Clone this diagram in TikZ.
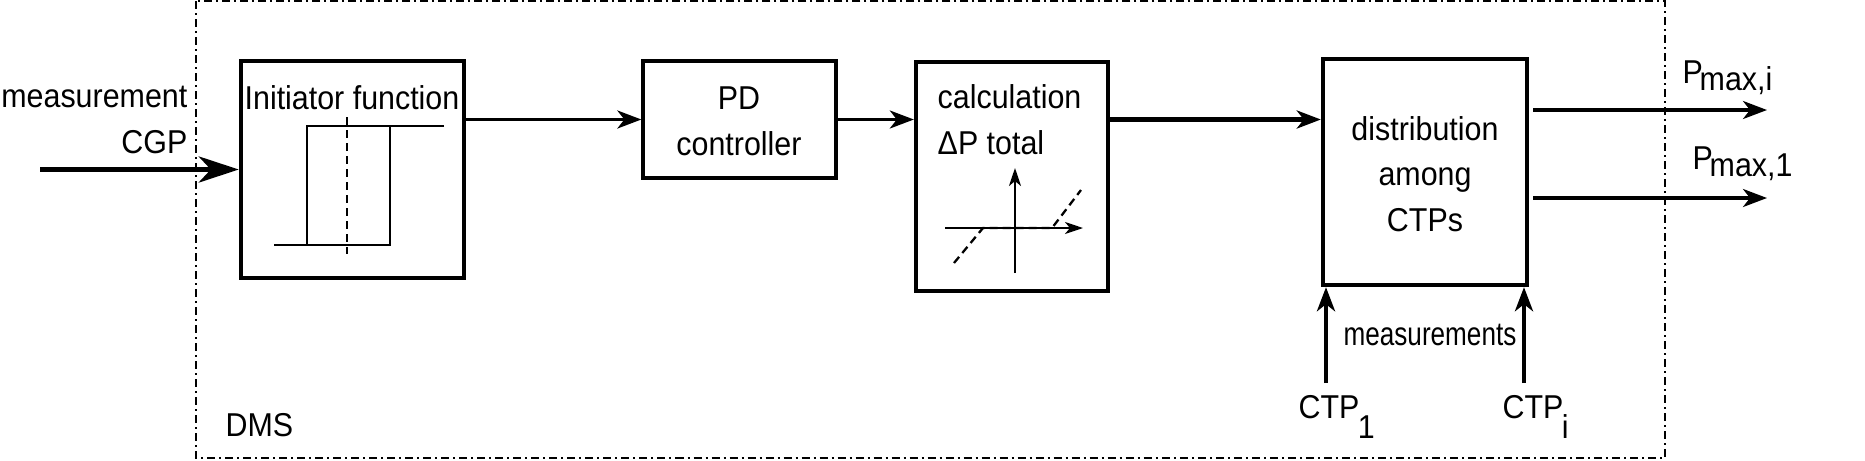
\documentclass[tikz,border=0pt]{standalone}
\usepackage{fontspec}
\setmainfont{Liberation Sans}[FakeStretch=0.92]
\newfontfamily\narrowsans{Liberation Sans}[FakeStretch=0.79]
\usetikzlibrary{positioning,arrows.meta}

\tikzset{
  txt/.style={font=\fontsize{9.4}{13}\selectfont, inner sep=0pt},
  smalltxt/.style={font=\narrowsans\fontsize{9.4}{11}\selectfont, inner sep=0pt},
  blockthick/.style={draw, line width=1.2pt, inner sep=0pt},
  blockthin/.style={draw, line width=0.9pt, inner sep=0pt},
  sig/.style={line width=0.9pt, -{Stealth[length=0.24cm, width=0.18cm, inset=0.07cm]}},
  sigthick/.style={line width=1.2pt, -{Stealth[length=0.24cm, width=0.18cm, inset=0.07cm]}},
  sigin/.style={line width=1.5pt, -{Stealth[length=0.4cm, width=0.26cm, inset=0.12cm]}},
  curve/.style={line width=0.65pt},
  axis/.style={line width=0.65pt, -{Stealth[length=0.18cm, width=0.12cm, inset=0.05cm]}},
  dashcurve/.style={line width=0.65pt, dash pattern=on 0.08cm off 0.05cm},
  frame/.style={line width=0.6pt, dash pattern=on 0.08cm off 0.04cm on 0.02cm off 0.04cm}
}

\begin{document}
\begin{tikzpicture}[x=0.01cm, y=-0.01cm]
    \useasboundingbox (0,0) rectangle (1865,460);

    % DMS frame
    \draw[frame] (196,1) rectangle (1665,458);
    \node[txt, anchor=west] (dms) at (225,425) {DMS};

    % Blocks
    \node[blockthick, minimum width=2.23cm, minimum height=2.17cm] (init) at (352.5,169.5) {};
    \node[blockthin, minimum width=1.93cm, minimum height=1.17cm] (pd) at (739.5,119.5) {};
    \node[blockthick, minimum width=1.92cm, minimum height=2.29cm] (calc) at (1012,176.5) {};
    \node[blockthick, minimum width=2.04cm, minimum height=2.26cm] (dist) at (1425,172) {};

    % Block texts
    \node[txt] (inittext) at (352,98) {Initiator function};
    \node[txt, align=center] (pdtext) at (739,121) {PD\\controller};
    \node[txt, align=left, anchor=west] (calctext) at (937,120) {calculation\\ΔP total};
    \node[txt, align=center] (disttext) at (1425,174) {distribution\\among\\CTPs};

    % Hysteresis of the initiator
    \draw[curve] (274,245) -- (390,245) -- (390,126);
    \draw[curve] (444,126) -- (307,126) -- (307,245);
    \draw[dashcurve] (347,117) -- (347,254);

    % Dead band of the calculation
    \draw[axis] (945,228) -- (1083,228);
    \draw[axis] (1015,273) -- (1015,168);
    \draw[dashcurve] (954,263) -- (983,228) -- (1052,228) -- (1081,190);

    % Input
    \coordinate (cgp) at (40,169.5);
    \node[txt, align=right, anchor=east] (cgptext) at (188,120) {measurement\\CGP};
    \draw[sigin] (cgp) -- (init.west);

    % Chain
    \draw[sig] (init.east |- pd.west) -- (pd.west);
    \draw[sig] (pd.east) -- (pd.east -| calc.west);
    \draw[sigthick] (calc.east |- pd.east) -- (dist.west |- pd.east);

    % Outputs
    \coordinate (outi) at (1767,110);
    \coordinate (outone) at (1767,198);
    \draw[sig] ([xshift=0.04cm]dist.east |- outi) -- (outi);
    \draw[sig] ([xshift=0.04cm]dist.east |- outone) -- (outone);
    \node[txt, anchor=base west] (outitext) at (1682,83) {P\kern-0.1em\raisebox{-0.22em}{max,i}};
    \node[txt, anchor=base west] (outonetext) at (1692,169) {P\kern-0.1em\raisebox{-0.22em}{max,1}};

    % CTP measurements
    \coordinate (ctpone) at (1326,383);
    \coordinate (ctpi) at (1524,383);
    \draw[sigthick] (ctpone) -- (ctpone |- dist.south);
    \draw[sigthick] (ctpi) -- (ctpi |- dist.south);
    \node[smalltxt] (meas) at (1430,335) {measurements};
    \node[txt, anchor=base west] (ctponetext) at (1298,418) {CTP\kern-0.05em\raisebox{-0.62em}{1}};
    \node[txt, anchor=base west] (ctpitext) at (1502,418) {CTP\kern-0.05em\raisebox{-0.62em}{i}};

\end{tikzpicture}
\end{document}
